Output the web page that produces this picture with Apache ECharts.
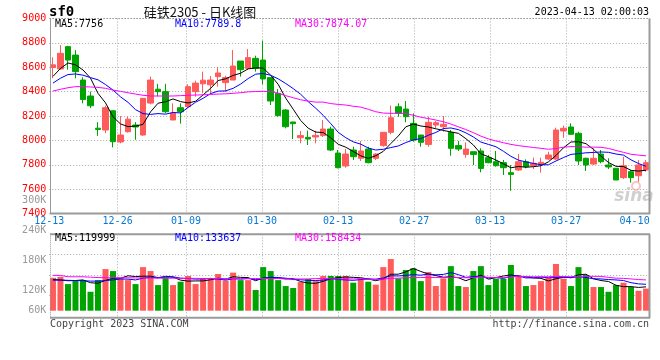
<!DOCTYPE html>
<html><head><meta charset="utf-8">
<script src="https://cdn.jsdelivr.net/npm/echarts/dist/echarts.min.js"></script>
<style>html,body{margin:0;padding:0;background:#fff}#c{width:660px;height:360px}</style>
</head><body><div id="c"></div>
<script>
const dates = ['12-13','12-14','12-15','12-16','12-19','12-20','12-21','12-22','12-23','12-26','12-27','12-28','12-29','12-30',
'01-03','01-04','01-05','01-06','01-09','01-10','01-11','01-12','01-13','01-16','01-17','01-18','01-19','01-20','01-30','01-31',
'02-01','02-02','02-03','02-06','02-07','02-08','02-09','02-10','02-13','02-14','02-15','02-16','02-17','02-20','02-21','02-22','02-23','02-24','02-27','02-28',
'03-01','03-02','03-03','03-06','03-07','03-08','03-09','03-10','03-13','03-14','03-15','03-16','03-17','03-20','03-21','03-22','03-23','03-24','03-27','03-28','03-29','03-30','03-31',
'04-03','04-04','04-06','04-07','04-10','04-11','04-12'];
const labelDates = ['12-13','12-26','01-09','01-30','02-13','02-27','03-13','03-27','04-10'];
const gridDates = ['12-26','01-09','01-30','02-13','02-27','03-13','03-27'];

const opens = [8598,8586,8769,8700,8495,8364,8100,8085,8243,7987,
8071,8126,8044,8306,8420,8400,8167,8268,8276,8400,
8464,8456,8523,8474,8495,8651,8591,8673,8659,8515,
8386,8249,8151,8022,8025,8028,8039,8093,7896,7790,
7921,7853,7929,7853,7957,8066,8276,8257,8140,8044,
7967,8126,8112,8066,7957,7885,7907,7913,7858,7825,
7817,7735,7757,7825,7792,7806,7847,7847,8077,8110,
8058,7853,7806,7888,7798,7771,7694,7743,7710,7757];
const closes = [8620,8714,8659,8564,8335,8284,8090,8268,7989,8044,
8174,8110,8345,8495,8400,8235,8225,8235,8441,8470,
8494,8495,8553,8515,8610,8580,8679,8591,8504,8323,
8203,8112,8137,8039,8011,8041,8093,7921,7776,7888,
7866,7913,7817,7888,8066,8186,8222,8194,8003,7984,
8148,8145,8132,7935,7929,7929,7885,7770,7817,7792,
7776,7721,7825,7784,7812,7820,7880,8085,8099,8050,
7831,7798,7853,7825,7782,7675,7792,7694,7798,7817];
const highs = [8682,8782,8776,8741,8518,8400,8150,8285,8246,8200,
8194,8150,8348,8523,8464,8464,8304,8304,8460,8490,
8564,8528,8602,8531,8741,8651,8750,8695,8818,8515,
8421,8257,8151,8077,8080,8080,8167,8112,7921,7929,
7948,7995,7948,7894,8066,8285,8304,8323,8222,8044,
8194,8159,8200,8085,7995,7984,7907,7935,7880,7913,
7839,7798,7888,7844,7858,7858,7907,8104,8121,8140,
8071,7858,7935,7921,7853,7771,7866,7757,7839,7839];
const lows = [8510,8580,8580,8509,8304,8265,8037,8060,7942,7976,
8064,8005,8036,8295,8361,8222,8167,8137,8265,8359,
8386,8378,8441,8400,8495,8523,8577,8564,8460,8290,
8194,8099,8011,7976,7962,7976,8028,7913,7771,7776,
7839,7831,7812,7839,7948,8050,8194,8148,7989,7948,
7948,8099,8071,7874,7913,7858,7798,7738,7812,7784,
7716,7587,7749,7771,7765,7735,7839,7839,8022,8044,
7798,7749,7798,7812,7765,7675,7683,7653,7661,7743];
const ma5 = [8525,8590,8635,8620,8578,8511,8386,8308,8193,8135,
8113,8117,8132,8234,8305,8317,8340,8318,8307,8321,
8373,8427,8491,8505,8533,8551,8587,8595,8593,8535,
8460,8347,8256,8163,8100,8068,8064,8021,7968,7944,
7909,7873,7852,7874,7910,7974,8036,8111,8134,8118,
8110,8095,8082,8069,8058,8014,7962,7890,7866,7839,
7808,7775,7786,7780,7784,7792,7824,7876,7939,7987,
7989,7973,7926,7871,7818,7787,7785,7754,7748,7755];
const ma10 = [8470,8510,8540,8545,8535,8515,8497,8458,8413,8357,
8312,8252,8220,8213,8220,8215,8229,8225,8270,8313,
8345,8384,8404,8406,8427,8462,8507,8543,8549,8534,
8505,8467,8425,8378,8318,8264,8205,8138,8066,8022,
7988,7969,7937,7921,7927,7941,7954,7982,8004,8014,
8042,8065,8097,8102,8088,8062,8028,7986,7967,7948,
7911,7869,7838,7823,7811,7800,7800,7831,7859,7885,
7891,7898,7901,7905,7902,7888,7879,7840,7810,7787];
const ma30 = [8405,8419,8432,8441,8441,8438,8435,8427,8413,8402,
8391,8380,8370,8364,8364,8364,8364,8367,8370,8372,
8374,8377,8380,8382,8386,8391,8398,8401,8402,8401,
8387,8367,8350,8333,8322,8314,8314,8302,8295,8290,
8280,8273,8255,8235,8224,8222,8222,8221,8206,8190,
8179,8167,8153,8134,8111,8089,8063,8035,8012,7995,
7981,7967,7957,7949,7942,7935,7927,7933,7944,7949,
7948,7944,7945,7943,7934,7917,7902,7886,7879,7873];
// volume in thousands
const vol = [167,172,135,152,155,96,155,211,201,164,
155,135,221,201,130,169,130,147,176,135,
166,161,186,152,193,155,155,105,221,201,
155,125,115,145,161,150,176,176,176,176,
142,164,147,132,221,262,164,206,215,150,
196,125,164,226,125,120,201,226,130,162,
162,232,181,125,130,150,167,237,162,125,
221,181,120,120,96,130,142,120,101,112];
const vma5 = [158,156,152,153,156,142,139,154,164,165,
177,173,175,175,168,171,170,155,150,151,
151,157,165,160,172,169,168,152,166,167,
167,161,163,148,140,139,149,162,168,171,
169,167,161,152,161,185,185,197,214,199,
186,178,170,172,167,152,167,180,160,168,
176,182,173,172,166,164,151,162,169,168,
182,185,162,153,148,129,122,122,118,121];
const vma10 = [155,155,154,153,152,150,150,153,156,161,
160,156,165,169,167,174,172,165,163,160,
161,164,160,155,162,160,163,158,163,170,
168,165,158,157,154,153,155,163,158,156,
154,158,161,160,166,177,176,179,183,180,
186,182,184,193,183,169,173,175,166,168,
164,175,177,166,167,170,167,168,171,167,
173,168,162,161,158,156,153,142,136,134];
const vma30 = [179,179,172,172,172,170,168,167,167,167,
167,166,166,166,165,165,165,164,164,164,
163,163,163,163,163,163,163,163,163,163,
163,161,161,161,161,163,163,162,161,162,
161,162,160,157,160,164,165,167,168,168,
169,168,168,170,168,167,168,172,169,168,
168,172,174,173,172,172,172,174,173,172,
174,175,174,174,169,165,164,161,158,156];

const titleCode = 'sf0';
const titleText = '硅铁2305 - 日K线图';
const timeText = '2023-04-13 02:00:03';
const priceLegend = ['MA5:7756','MA10:7789.8','MA30:7874.07'];
const volLegend = ['MA5:119999','MA10:133637','MA30:158434'];
const copyText = 'Copyright 2023 SINA.COM';
const urlText = 'http://finance.sina.com.cn';

const UP = '#ff5b5b', DOWN = '#00a400';
const MA_COLORS = ['#000000','#0000ff','#ff00ff'];
const MONO = '"DejaVu Sans Mono", monospace';
const GRIDC = '#a8a8a8';
const BORDER = '#9a9a9a';

const L = 49.2, W = 600.6;
const gridCommon = {left: L, width: W, containLabel: false, outerBoundsMode: 'none'};

const chart = echarts.init(document.getElementById('c'), null, {renderer: 'canvas'});

function txt(x, y, text, font, fill, align) {
  return {type: 'text', x: x, y: y, z: 50, silent: true,
    style: {text: text, font: font, fill: fill, align: align || 'left', verticalAlign: 'middle'}};
}
function line(x1, y1, x2, y2, w, dash) {
  return {type: 'line', z: 40, silent: true, shape: {x1, y1, x2, y2},
    style: {stroke: BORDER, lineWidth: w, lineDash: dash || null}};
}

const maSeries = (data, color, xi, yi, name) => ({
  type: 'line', name: name, data: data, xAxisIndex: xi, yAxisIndex: yi,
  showSymbol: false, symbol: 'none', smooth: false,
  lineStyle: {color: color, width: 1}, z: 5, silent: true
});

const volLabelFmt = v => v === 60 ? '{lo|60K}' : v + 'K';

const option = {
  animation: false,
  backgroundColor: '#fff',
  grid: [
    Object.assign({top: 18.5, height: 195}, gridCommon),
    Object.assign({top: 234.3, height: 83.4}, gridCommon),
    Object.assign({top: 200.7, height: 120}, gridCommon)
  ],
  xAxis: [
    {gridIndex: 0, type: 'category', data: dates, boundaryGap: true, show: false, position: 'top'},
    {gridIndex: 0, type: 'category', data: dates, boundaryGap: false, position: 'bottom',
      axisLine: {show: false}, axisTick: {show: false},
      axisLabel: {interval: (i, v) => labelDates.includes(v), color: '#0a78d2', fontFamily: MONO, fontSize: 10, margin: 3},
      splitLine: {show: true, interval: (i, v) => gridDates.includes(v), lineStyle: {color: GRIDC, type: [1, 2], width: 1}}},
    {gridIndex: 1, type: 'category', data: dates, boundaryGap: true, show: false, position: 'top'},
    {gridIndex: 1, type: 'category', data: dates, boundaryGap: false, position: 'bottom',
      axisLine: {show: false}, axisTick: {show: false}, axisLabel: {show: false},
      splitLine: {show: true, interval: (i, v) => gridDates.includes(v), lineStyle: {color: GRIDC, type: [1, 2], width: 1}}},
    {gridIndex: 2, type: 'category', data: dates, show: false}
  ],
  yAxis: [
    {gridIndex: 0, type: 'value', min: 7400, max: 9000, interval: 200,
      axisLine: {show: false}, axisTick: {show: false},
      axisLabel: {color: '#ff0000', fontFamily: MONO, fontSize: 10, margin: 3, padding: [0, 0, 4, 0], formatter: v => String(v)},
      splitLine: {show: true, lineStyle: {color: GRIDC, type: [1, 2], width: 1}}},
    {gridIndex: 1, type: 'value', min: -35.5, max: 387.4, show: false},
    {gridIndex: 1, type: 'value', inverse: true, min: 0, max: 4.09, interval: 1,
      axisLine: {show: false}, axisTick: {show: false}, axisLabel: {show: false},
      splitLine: {show: true, lineStyle: {color: ['rgba(0,0,0,0)', GRIDC, GRIDC, GRIDC, 'rgba(0,0,0,0)', 'rgba(0,0,0,0)'], type: [1, 2], width: 1}}},
    {gridIndex: 2, type: 'value', min: 60, max: 300, interval: 60,
      axisLine: {show: false}, axisTick: {show: false}, splitLine: {show: false},
      axisLabel: {color: '#999999', fontFamily: MONO, fontSize: 10, margin: 3, formatter: volLabelFmt,
        rich: {lo: {color: '#999999', fontFamily: MONO, fontSize: 10, padding: [0, 0, 20, 0]}}}}
  ],
  series: [
    {type: 'candlestick', name: 'K', xAxisIndex: 0, yAxisIndex: 0, barWidth: 6,
      data: dates.map((d, i) => [opens[i], closes[i], lows[i], highs[i]]),
      itemStyle: {color: UP, color0: DOWN, borderColor: UP, borderColor0: DOWN, borderWidth: 1}, z: 3, silent: true},
    maSeries(ma5, MA_COLORS[0], 0, 0, 'MA5'),
    maSeries(ma10, MA_COLORS[1], 0, 0, 'MA10'),
    maSeries(ma30, MA_COLORS[2], 0, 0, 'MA30'),
    {type: 'bar', name: 'VOL', xAxisIndex: 2, yAxisIndex: 1, barWidth: 6, silent: true, z: 3,
      data: vol.map((v, i) => ({value: v, itemStyle: {color: closes[i] >= opens[i] ? UP : DOWN}}))},
    maSeries(vma5, MA_COLORS[0], 2, 1, 'VMA5'),
    maSeries(vma10, MA_COLORS[1], 2, 1, 'VMA10'),
    maSeries(vma30, MA_COLORS[2], 2, 1, 'VMA30')
  ],
  graphic: [
    line(50, 18.5, 650, 18.5, 1, [1, 2]),
    line(50.5, 18.5, 50.5, 213.5, 1),
    line(649.5, 18.5, 649.5, 214, 2),
    line(50, 213.5, 650, 213.5, 2),
    line(50, 234.3, 650, 234.3, 2),
    line(50.5, 234.3, 50.5, 317.7, 1, [1, 1]),
    line(649.5, 234.3, 649.5, 318.2, 2),
    line(50, 317.7, 650, 317.7, 2),
    {type: 'text', x: 634, y: 197, z: 1, silent: true,
      style: {text: 'sina', font: 'italic bold 17px "DejaVu Sans"', fill: 'rgba(170,170,170,0.55)', align: 'center', verticalAlign: 'middle'}},
    {type: 'circle', z: 1, silent: true, shape: {cx: 636, cy: 186, r: 4},
      style: {fill: 'none', stroke: 'rgba(240,150,150,0.55)', lineWidth: 2}},
    txt(49, 12, titleCode, 'bold 14px "DejaVu Sans Mono"', '#000', 'left'),
    txt(200, 12, titleText, '13px "Noto Sans CJK SC"', '#111', 'center'),
    txt(649, 12, timeText, '10px ' + MONO, '#000', 'right'),
    txt(55, 24, priceLegend[0], '10px ' + MONO, MA_COLORS[0]),
    txt(175, 24, priceLegend[1], '10px ' + MONO, MA_COLORS[1]),
    txt(295, 24, priceLegend[2], '10px ' + MONO, MA_COLORS[2]),
    txt(55, 238.5, volLegend[0], '10px ' + MONO, MA_COLORS[0]),
    txt(175, 238.5, volLegend[1], '10px ' + MONO, MA_COLORS[1]),
    txt(295, 238.5, volLegend[2], '10px ' + MONO, MA_COLORS[2]),
    txt(50, 324, copyText, '10px ' + MONO, '#444'),
    txt(649, 324, urlText, '10px ' + MONO, '#444', 'right')
  ]
};
chart.setOption(option);
</script></body></html>
